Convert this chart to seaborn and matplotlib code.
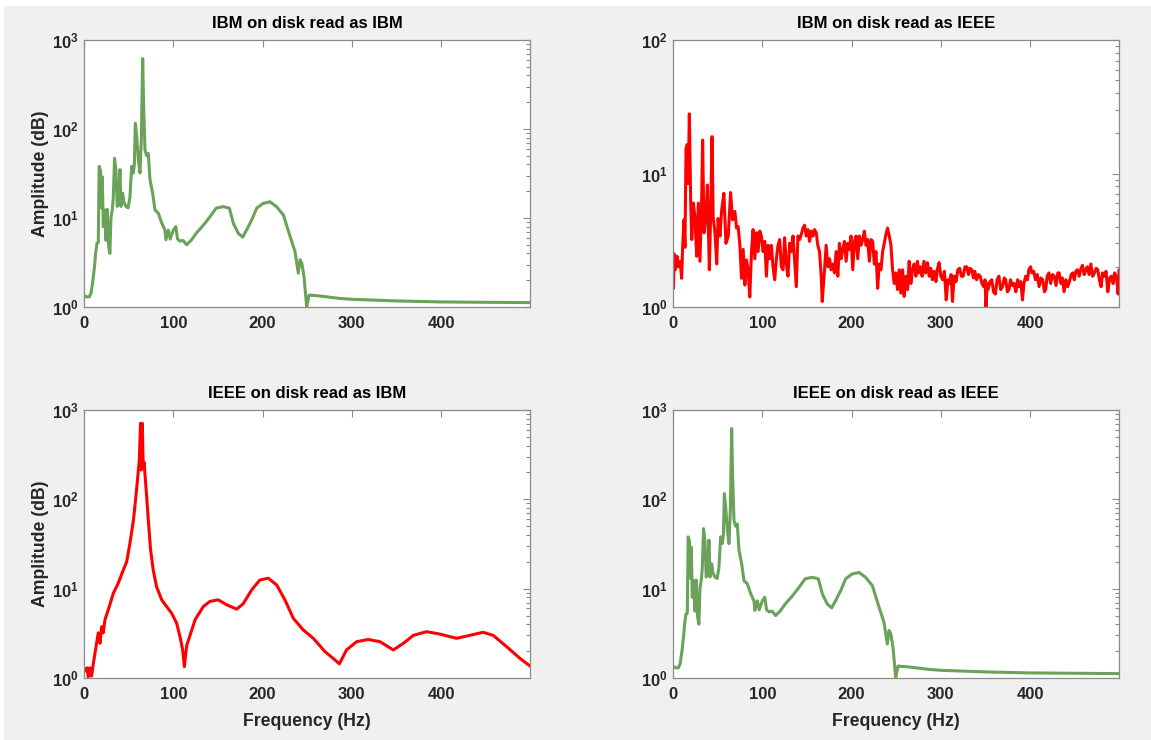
import matplotlib
matplotlib.use("Agg")
import matplotlib.pyplot as plt
import seaborn as sns
import pandas as pd
from matplotlib.patches import Rectangle
from matplotlib.ticker import NullFormatter

# ---------------- data ----------------
# correctly decoded spectrum (IBM->IBM and IEEE->IEEE are identical)
green_freq = [0, 3, 6, 8, 10, 12, 13, 14.5, 16, 17,
              18.5, 19.7, 20.5, 21.6, 23.4, 24.6, 26, 27.6, 29, 30.2,
              31.7, 32.8, 34.2, 35.7, 37.2, 38.8, 40.3, 41.4, 43.3, 44.7,
              47, 49.4, 51.4, 53.4, 55.2, 56.4, 57.5, 59, 60.9, 62.7,
              64.2, 65.7, 66.8, 68.3, 70.2, 72, 73.9, 76.9, 79.5, 83.3,
              87, 90.7, 91.7, 94.5, 96.5, 100, 102.8, 104.8, 107.5, 111,
              115, 120.5, 126, 133.7, 141, 148, 156, 162.8, 167.3, 172.9,
              177.7, 182, 187.8, 193.4, 200.6, 208.3, 215.7, 223.3, 230.8, 236.3,
              240, 242, 244, 246.4, 249.4, 252, 264, 286, 300, 350,
              400, 450, 499.5]
green_amp = [1.35, 1.3, 1.3, 1.45, 2.0, 3.0, 4.0, 5.2, 5.3, 38,
             34, 13, 29, 8, 12.3, 5.6, 12.5, 4.8, 4.0, 10,
             12.5, 17, 47, 35, 13.5, 17, 35, 13.5, 19, 15,
             13.5, 13, 17, 38, 32, 40, 116, 82, 45, 32,
             75, 620, 178, 58, 50, 53, 27, 19, 12.3, 11.3,
             8.8, 7.3, 5.7, 7.3, 5.8, 7.3, 8, 5.8, 5.5, 5.6,
             5.0, 5.7, 6.8, 8.3, 10.3, 12.9, 13.4, 12.9, 8.7, 6.7,
             6.1, 7.3, 9.5, 12.9, 14.6, 15.2, 13.4, 10.8, 6.2, 4.2,
             2.4, 3.4, 3.1, 2.2, 1.0, 1.36, 1.33, 1.25, 1.22, 1.17,
             1.14, 1.13, 1.12]

# IBM read as IEEE, 0-52 Hz
tr_freq_low = [0, 0.5, 1.5, 2.5, 4.5, 6, 8, 9.7, 10.8, 12.3,
               13.4, 14.6, 16, 17, 18.3, 19.8, 21, 22.8, 24.6, 26.5,
               28.4, 30.2, 32, 33.2, 34.7, 37, 38.5, 40.7, 42.2, 43.7,
               45, 47, 49, 50.5]
tr_amp_low = [2.5, 1.38, 2.5, 1.9, 2.4, 2.0, 2.2, 1.64, 2.8, 4.5,
              2.8, 15.4, 16.5, 8.4, 28, 6.3, 3.2, 6.0, 4.7, 2.4,
              6.0, 2.2, 6.0, 17.8, 3.6, 4.7, 8.2, 1.9, 5.0, 18.9,
              4.7, 3.6, 2.1, 4.6]
# IBM read as IEEE, 52-274 Hz
tr_freq_mid = [52.6, 54.5, 57, 59.3, 61.9, 64.5, 66.7, 69.3, 71.2, 73,
               74.9, 76.7, 78.6, 80.5, 82.3, 84.2, 86, 87.9, 89.7, 91.6,
               93.5, 95.3, 97.2, 99, 100.9, 102.8, 104.6, 106.5, 108.3, 110.2,
               112, 113.9, 115.8, 117.6, 119.5, 121.3, 123.2, 125, 126.9, 128.8,
               130.6, 132.5, 134.4, 136.2, 138.1, 139.9, 141.8, 143.7, 145.5, 147.4,
               149.2, 151.1, 153, 154.8, 156.7, 158.5, 160.4, 162.2, 164.1, 166,
               167.1, 169.7, 171.5, 173.4, 175.3, 177.1, 179, 180.8, 182.7, 184.6,
               186.4, 188.3, 190.1, 192, 193.9, 195.7, 197.6, 199.4, 201.3, 203.2,
               205, 206.9, 208.7, 210.6, 212.5, 214.3, 216.2, 218, 219.9, 221.8,
               223.6, 225.5, 227.3, 229.2, 231, 232.9, 234.8, 236.6, 238.5, 240.3,
               242.2, 244.1, 245.9, 247.8, 249.6, 251.5, 253.4, 255.2, 257.1, 258.9,
               260.8, 262.7, 264.5, 266.4, 268.2, 270.1, 272, 273.8]
tr_amp_mid = [3.4, 5.3, 7.1, 3.0, 3.4, 7.2, 4.5, 5.2, 3.9, 4.0,
              2.9, 1.64, 2.7, 1.46, 2.25, 1.9, 1.19, 2.6, 3.8, 2.3,
              3.6, 2.6, 3.7, 3.4, 2.6, 3.1, 1.7, 2.9, 2.3, 2.9,
              2.0, 1.6, 2.3, 2.9, 3.2, 2.0, 1.9, 3.3, 2.1, 1.7,
              3.0, 2.6, 3.4, 2.25, 1.42, 3.4, 3.2, 3.5, 3.9, 4.1,
              3.4, 3.8, 3.1, 3.7, 3.4, 3.8, 3.6, 2.9, 2.6, 1.7,
              1.1, 1.9, 2.9, 2.0, 2.3, 1.9, 2.1, 1.8, 2.6, 1.7,
              3.0, 2.3, 2.7, 3.1, 2.2, 3.0, 2.7, 3.4, 1.9, 3.1,
              3.4, 2.3, 3.4, 2.9, 3.2, 3.7, 2.9, 3.2, 2.2, 3.2,
              3.1, 2.1, 2.6, 1.38, 2.1, 1.9, 2.6, 3.0, 3.5, 3.9,
              3.4, 2.9, 1.9, 1.5, 1.8, 1.35, 1.9, 1.27, 1.9, 1.2,
              1.7, 1.35, 2.2, 1.5, 1.9, 2.1, 1.7, 2.2]
# IBM read as IEEE, 275-500 Hz
tr_freq_high = [275, 277, 279, 281, 283, 285, 287, 288.7, 290.5, 292.5,
                294.5, 296, 298, 300, 302, 304, 306, 308, 310, 311.5,
                313, 315, 317, 319, 321, 323, 325, 327, 329, 331,
                332.5, 334.6, 336.5, 338, 340, 342, 344, 346, 348, 349.5,
                350.5, 352, 353, 355, 357, 359, 361, 363, 365, 367,
                369, 371, 372.6, 374.5, 376.4, 378, 380, 382, 384, 386,
                387.6, 389.5, 391.4, 393, 395, 397, 398.5, 400.5, 402, 404,
                406, 408, 410, 412, 414, 416, 417.5, 419, 421, 423,
                425, 427, 429, 431, 432.5, 434.5, 436, 438, 440, 442,
                444, 446, 447.5, 449.5, 451, 453, 455, 457, 458.6, 460.5,
                462.4, 464, 466, 468, 470, 472, 474, 475.7, 477.5, 479.5,
                481, 483, 485, 487, 489, 491, 493, 494.6, 496, 497,
                498.5, 499.5]
tr_amp_high = [1.8, 2.0, 1.7, 2.2, 1.8, 2.15, 1.7, 1.95, 1.6, 1.85,
               1.55, 1.9, 2.15, 1.7, 1.6, 1.85, 1.13, 1.6, 1.5, 1.75,
               1.1, 1.7, 1.55, 1.9, 1.95, 1.7, 1.7, 2.0, 2.0, 1.75,
               1.95, 1.9, 1.65, 1.85, 1.6, 1.75, 1.7, 1.5, 1.42, 1.6,
               1.0, 1.5, 1.36, 1.55, 1.6, 1.3, 1.25, 1.6, 1.7, 1.35,
               1.42, 1.65, 1.6, 1.3, 1.36, 1.6, 1.45, 1.5, 1.3, 1.6,
               1.42, 1.55, 1.13, 1.5, 1.7, 1.6, 1.9, 2.0, 1.8, 1.85,
               1.6, 1.75, 1.42, 1.65, 1.6, 1.3, 1.36, 1.7, 1.8, 1.5,
               1.75, 1.7, 1.45, 1.8, 1.8, 1.5, 1.65, 1.3, 1.6, 1.42,
               1.55, 1.75, 1.8, 1.6, 1.85, 1.9, 1.7, 1.95, 2.05, 1.75,
               1.9, 2.0, 1.75, 2.1, 1.7, 1.8, 1.95, 1.9, 1.6, 1.42,
               1.8, 1.7, 1.85, 1.3, 1.65, 1.7, 1.5, 1.8, 1.7, 1.6,
               1.25, 1.9]

# IEEE read as IBM
bl_freq = [0, 2, 3.5, 4.8, 6.7, 8.5, 10.5, 12.3, 14.1, 16,
           17.9, 19.8, 21.5, 23.5, 27.2, 32.9, 38.3, 44, 47.8, 51.4,
           55.4, 58.5, 60.9, 62, 63.3, 64.2, 65.3, 66.3, 67.3, 70.2,
           72, 74.6, 77.6, 81.3, 87, 92.6, 98.2, 103.8, 107.5, 110.5,
           112.4, 115, 118.7, 124.5, 133.6, 141, 150.4, 159.8, 171, 178.4,
           187.8, 197, 206.4, 215.8, 225, 234.4, 245.6, 256.8, 270, 279,
           286, 294, 305.3, 318.4, 331.5, 346.4, 357.6, 368.8, 383.7, 398.7,
           417.3, 432, 447, 458.3, 473.4, 488.2, 499.5]
bl_amp = [1.3, 1.2, 1.3, 1.03, 1.3, 1.05, 1.46, 1.9, 2.45, 3.2,
          2.45, 3.75, 3.2, 4.5, 5.8, 8.9, 11.5, 16.2, 20, 32,
          59, 117, 213, 280, 710, 213, 710, 230, 260, 107,
          59, 27, 16, 10.5, 7.5, 6.3, 5.3, 4.1, 2.9, 2.06,
          1.34, 2.3, 3.0, 4.5, 6.3, 7.2, 7.5, 6.6, 5.9, 6.8,
          9.7, 12.5, 13.1, 11, 7.5, 4.66, 3.45, 2.78, 1.97, 1.66,
          1.44, 2.06, 2.55, 2.7, 2.55, 2.06, 2.44, 3.0, 3.3, 3.1,
          2.78, 3.0, 3.25, 3.0, 2.24, 1.66, 1.36]

titles = ["IBM on disk read as IBM", "IBM on disk read as IEEE",
          "IEEE on disk read as IBM", "IEEE on disk read as IEEE"]
x_ticks = [0, 100, 200, 300, 400]
x_ticklabels = ["0", "100", "200", "300", "400"]
xlabel_text = "Frequency (Hz)"
ylabel_text = "Amplitude (dB)"

tr_freq = tr_freq_low + tr_freq_mid + tr_freq_high
tr_amp = tr_amp_low + tr_amp_mid + tr_amp_high

# ---------------- style ----------------
sns.set_theme(style="white")
plt.rcParams["font.family"] = ["Liberation Sans", "DejaVu Sans"]
plt.rcParams["mathtext.fontset"] = "custom"
plt.rcParams["mathtext.rm"] = "Liberation Sans"
plt.rcParams["mathtext.bf"] = "Liberation Sans:bold"

GREEN = "#6aa25a"
RED = "#ff0000"
TXT = "#262626"
EDGE = "#8a8a8a"

fig = plt.figure(figsize=(11.51, 7.40), dpi=100, facecolor="#f0f0f0")
fig.add_artist(Rectangle((0, 1 - 6 / 740), 1, 6 / 740, transform=fig.transFigure,
                         facecolor="white", edgecolor="none"))
fig.add_artist(Rectangle((0, 0), 4 / 1151, 1, transform=fig.transFigure,
                         facecolor="white", edgecolor="none"))

W = 446 / 1151
panels = [
    dict(rect=[84 / 1151, 433 / 740, W, 267 / 740], f=green_freq, a=green_amp, c=GREEN,
         top=3, title=titles[0], ylab=True, xlab=False),
    dict(rect=[673 / 1151, 433 / 740, W, 267 / 740], f=tr_freq, a=tr_amp, c=RED,
         top=2, title=titles[1], ylab=False, xlab=False),
    dict(rect=[84 / 1151, 62 / 740, W, 268 / 740], f=bl_freq, a=bl_amp, c=RED,
         top=3, title=titles[2], ylab=True, xlab=True),
    dict(rect=[673 / 1151, 62 / 740, W, 268 / 740], f=green_freq, a=green_amp, c=GREEN,
         top=3, title=titles[3], ylab=False, xlab=True),
]

for p in panels:
    ax = fig.add_axes(p["rect"])
    ax.set_facecolor("white")
    df = pd.DataFrame({"freq": p["f"], "amp": p["a"]})
    sns.lineplot(data=df, x="freq", y="amp", ax=ax, color=p["c"], linewidth=2.2,
                 estimator=None, sort=False)
    ax.set_yscale("log")
    ax.set_xlim(0, 499.5)
    ax.set_ylim(1, 10 ** p["top"])
    dec = [10 ** k for k in range(p["top"] + 1)]
    ax.set_yticks(dec, labels=[r"$\mathbf{10^{%d}}$" % k for k in range(p["top"] + 1)],
                  fontsize=12, color=TXT)
    minors = [m * 10 ** k for k in range(p["top"]) for m in range(2, 10)]
    ax.set_yticks(minors, minor=True)
    ax.yaxis.set_minor_formatter(NullFormatter())
    ax.set_xticks(x_ticks, labels=x_ticklabels, fontsize=12, fontweight="bold", color=TXT)
    ax.tick_params(which="both", direction="in", top=True, right=True,
                   color=EDGE, width=0.8)
    ax.tick_params(axis="x", which="both", pad=6.5)
    ax.tick_params(axis="y", which="both", pad=4)
    ax.tick_params(which="major", length=5)
    ax.tick_params(which="minor", length=3)
    for s in ax.spines.values():
        s.set_color(EDGE)
        s.set_linewidth(0.9)
    ax.set_title(p["title"], fontsize=12, fontweight="bold", color="black", pad=9)
    ax.set_xlabel(xlabel_text if p["xlab"] else "", fontsize=12.7, fontweight="bold",
                  color=TXT, labelpad=8)
    ax.set_ylabel(ylabel_text if p["ylab"] else "", fontsize=12.7, fontweight="bold",
                  color=TXT, labelpad=2)

fig.savefig("out.png", dpi=100, facecolor=fig.get_facecolor())
